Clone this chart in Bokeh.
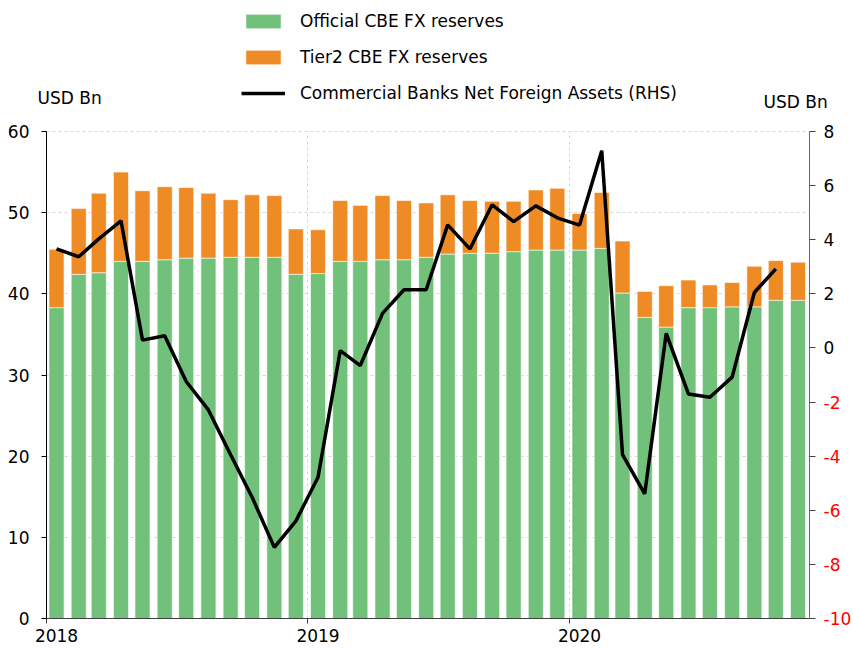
import pandas as pd
from bokeh.plotting import figure
from bokeh.models import (ColumnDataSource, Range1d, LinearAxis, DatetimeAxis, FixedTicker, Legend,
                          LegendItem, Label, DatetimeTickFormatter, CustomJSTickFormatter, Grid)
from bokeh.embed import file_html
from bokeh.resources import INLINE

# ---- data ----
months = ["2018-01", "2018-02", "2018-03", "2018-04", "2018-05", "2018-06", "2018-07", "2018-08",
          "2018-09", "2018-10", "2018-11", "2018-12", "2019-01", "2019-02", "2019-03", "2019-04",
          "2019-05", "2019-06", "2019-07", "2019-08", "2019-09", "2019-10", "2019-11", "2019-12",
          "2020-01", "2020-02", "2020-03", "2020-04", "2020-05", "2020-06", "2020-07", "2020-08",
          "2020-09", "2020-10", "2020-11"]
official = [38.3, 42.4, 42.6, 44.0, 44.0, 44.2, 44.4, 44.4, 44.5, 44.5, 44.5, 42.4,
            42.5, 44.0, 44.0, 44.2, 44.2, 44.5, 44.9, 45.0, 45.0, 45.2, 45.4, 45.4,
            45.4, 45.6, 40.1, 37.1, 35.9, 38.3, 38.3, 38.4, 38.4, 39.2, 39.2]
tier2 = [7.2, 8.1, 9.8, 11.0, 8.7, 9.0, 8.7, 8.0, 7.1, 7.7, 7.6, 5.6,
         5.4, 7.5, 6.9, 7.9, 7.3, 6.7, 7.3, 6.5, 6.4, 6.2, 7.4, 7.6,
         4.5, 6.9, 6.4, 3.2, 5.1, 3.4, 2.8, 3.0, 5.0, 4.9, 4.7]
nfa = [3.66, 3.37, 4.03, 4.70, 0.29, 0.45, -1.24, -2.29, -3.95, -5.52, -7.37, -6.4,
       -4.78, -0.1, -0.65, 1.28, 2.15, 2.15, 4.55, 3.66, 5.29, 4.67, 5.25, 4.81,
       4.54, 7.29, -3.94, -5.39, 0.54, -1.70, -1.82, -1.08, 2.05, 2.92]
left_ticks = [0, 10, 20, 30, 40, 50, 60]
right_ticks = [-10, -8, -6, -4, -2, 0, 2, 4, 6, 8]
year_ticks = ["2018-01-01", "2019-01-01", "2020-01-01"]
x_first, x_last = "2018-01-01", "2020-12-01"
L_MIN, L_MAX = 0, 60
R_MIN, R_MAX = -10, 8

GREEN = "#71c17b"
ORANGE = "#ef8b24"
FONT = "DejaVu Sans"
FS = "17px"

# ---- layout geometry (pixels) ----
W, H = 853, 648
PX_L, PX_R, PX_T, PX_B = 46, 809, 131, 618


def ms(d):
    return pd.Timestamp(d).value / 1e6


X0, X1 = ms(x_first), ms(x_last)
ms_px = (X1 - X0) / (PX_R - PX_L)
lu_px = (L_MAX - L_MIN) / (PX_B - PX_T)
ru_px = (R_MAX - R_MIN) / (PX_B - PX_T)

dates = pd.to_datetime(months) + pd.Timedelta(days=14)
tops = [o + t for o, t in zip(official, tier2)]
bar_src = ColumnDataSource(dict(x=dates, official=official, top=tops))
line_src = ColumnDataSource(dict(x=dates[:len(nfa)], y=nfa))

p = figure(width=W, height=H, x_axis_type="datetime", output_backend="svg",
           toolbar_location=None,
           x_range=Range1d(X0 - PX_L * ms_px, X1 + (W - PX_R) * ms_px),
           y_range=Range1d(L_MIN - (H - PX_B) * lu_px, L_MAX + PX_T * lu_px),
           min_border_left=0, min_border_right=0, min_border_top=0, min_border_bottom=0)
p.title_location = None
p.outline_line_color = None
p.extra_y_ranges = {"right": Range1d(R_MIN - (H - PX_B) * ru_px, R_MAX + PX_T * ru_px)}

# grids
year_ms = [ms(d) for d in year_ticks]
p.ygrid[0].ticker = FixedTicker(ticks=left_ticks[1:])
p.xgrid[0].ticker = FixedTicker(ticks=year_ms[1:])
for g in (p.xgrid[0], p.ygrid[0]):
    g.grid_line_color = "#d6d6d6"
    g.grid_line_dash = "3 3"
if "cross_bounds" in Grid.properties():
    p.ygrid[0].cross_bounds = (X0, X1)
    p.xgrid[0].cross_bounds = (L_MIN, L_MAX)
else:
    p.xgrid.visible = False
    p.ygrid.visible = False
    p.segment(x0=[X0] * 6, x1=[X1] * 6, y0=left_ticks[1:], y1=left_ticks[1:],
              line_color="#d6d6d6", line_dash="3 3")
    p.segment(x0=year_ms[1:], x1=year_ms[1:], y0=[L_MIN] * 2, y1=[L_MAX] * 2,
              line_color="#d6d6d6", line_dash="3 3")

bw = 21 * 24 * 3600 * 1000
r_off = p.vbar(x="x", top="official", bottom=0, width=bw, source=bar_src,
               fill_color=GREEN, line_color="white", line_alpha=0.6, line_width=1)
r_t2 = p.vbar(x="x", top="top", bottom="official", width=bw, source=bar_src,
              fill_color=ORANGE, line_color="white", line_alpha=0.6, line_width=1)
r_line = p.line(x="x", y="y", source=line_src, y_range_name="right",
                line_color="black", line_width=3.5)

# left axis
yl = p.yaxis[0]
yl.fixed_location = X0
yl.bounds = (L_MIN, L_MAX)
yl.ticker = FixedTicker(ticks=left_ticks)
yl.axis_line_color = "black"
yl.major_tick_line_color = "black"
yl.major_tick_out = 5
yl.major_tick_in = 0
yl.minor_tick_line_color = None
yl.major_label_standoff = 12
yl.major_label_text_font = FONT
yl.major_label_text_font_size = FS
yl.major_label_text_color = "black"

# right axis
yr = LinearAxis(y_range_name="right", ticker=FixedTicker(ticks=right_ticks),
                fixed_location=X1, bounds=(R_MIN, R_MAX))
yr.axis_line_color = "#666666"
yr.major_tick_line_color = "#444444"
yr.major_tick_out = 6
yr.major_tick_in = 0
yr.minor_tick_line_color = None
yr.major_label_standoff = 8
yr.major_label_text_font = FONT
yr.major_label_text_font_size = FS
yr.major_label_text_color = "black"
yr.major_label_overrides = {t: "" for t in right_ticks if t < 0}
p.add_layout(yr, "right")
for t in right_ticks:
    if t < 0:
        p.add_layout(Label(x=X1, y=t, y_range_name="right", x_offset=14, text=str(t),
                           text_align="left", text_baseline="middle", text_color="#ff0000",
                           text_font=FONT, text_font_size=FS))

# bottom axis: labels (mid-January), plus line and ticks at 1 January
xa = p.xaxis[0]
xa.fixed_location = L_MIN
xa.ticker = FixedTicker(ticks=[t + 14 * 86400000 for t in year_ms])
xa.formatter = DatetimeTickFormatter(years="%Y", months="%Y", days="%Y")
xa.axis_line_color = None
xa.major_tick_line_color = None
xa.major_tick_out = 5
xa.major_tick_in = 0
xa.minor_tick_line_color = None
xa.major_label_standoff = 5
xa.major_label_text_font = FONT
xa.major_label_text_font_size = FS
xa.major_label_text_color = "black"
xb = DatetimeAxis(fixed_location=L_MIN, bounds=(X0, X1), ticker=FixedTicker(ticks=year_ms),
                  formatter=CustomJSTickFormatter(code="return ''"))
xb.axis_line_color = "#404040"
xb.major_tick_line_color = "#404040"
xb.major_tick_out = 5
xb.major_tick_in = 0
xb.minor_tick_line_color = None
p.add_layout(xb, "below")

# unit labels
p.add_layout(Label(x=X0, y=L_MAX, x_offset=-9, y_offset=34, text="USD Bn",
                   text_align="left", text_baseline="middle", text_font=FONT,
                   text_font_size=FS, text_color="black"))
p.add_layout(Label(x=X1, y=L_MAX, x_offset=-46, y_offset=30, text="USD Bn",
                   text_align="left", text_baseline="middle", text_font=FONT,
                   text_font_size=FS, text_color="black"))

legend = Legend(items=[LegendItem(label="Official CBE FX reserves", renderers=[r_off]),
                       LegendItem(label="Tier2 CBE FX reserves", renderers=[r_t2]),
                       LegendItem(label="Commercial Banks Net Foreign Assets (RHS)", renderers=[r_line])],
                location=(241, 545), orientation="vertical", padding=0, margin=0, spacing=16,
                glyph_height=18, glyph_width=44, label_height=18, label_standoff=15,
                label_text_font=FONT, label_text_font_size=FS, label_text_baseline="middle",
                label_text_color="black",
                background_fill_alpha=0, border_line_alpha=0)
p.add_layout(legend)

open("out.html", "w").write(file_html(p, INLINE))
